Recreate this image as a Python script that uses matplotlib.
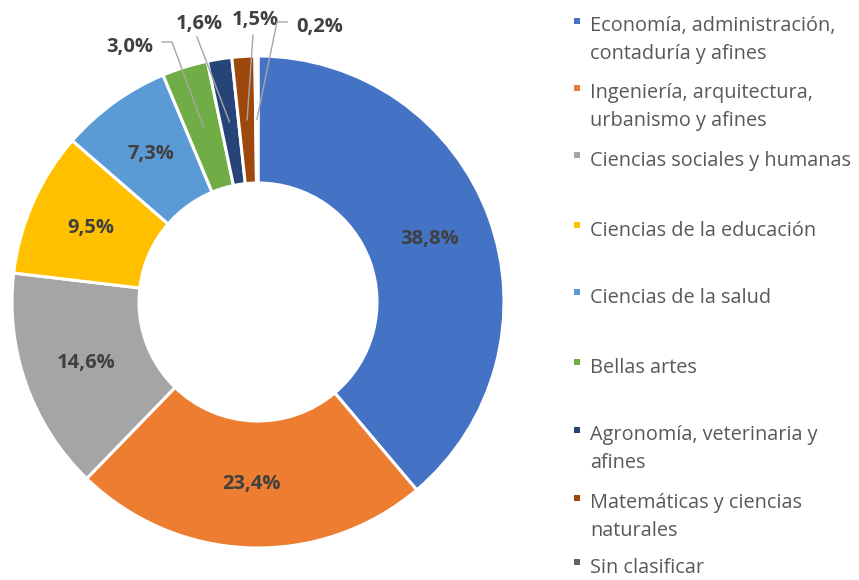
import numpy as np
import matplotlib as mpl
mpl.use('Agg')
import matplotlib.pyplot as plt
from matplotlib.patches import Rectangle

plt.rcParams['font.family'] = ['Open Sans', 'DejaVu Sans']

categories = ['Economía, administración,\ncontaduría y afines',
              'Ingeniería, arquitectura,\nurbanismo y afines',
              'Ciencias sociales y humanas',
              'Ciencias de la educación',
              'Ciencias de la salud',
              'Bellas artes',
              'Agronomía, veterinaria y\nafines',
              'Matemáticas y ciencias\nnaturales',
              'Sin clasificar']
values = [38.8, 23.4, 14.6, 9.5, 7.3, 3.0, 1.6, 1.5, 0.2]
labels = ['38,8%', '23,4%', '14,6%', '9,5%', '7,3%', '3,0%', '1,6%', '1,5%', '0,2%']
colors = ['#4472C4', '#ED7D31', '#A5A5A5', '#FFC000', '#5B9BD5',
          '#70AD47', '#264478', '#9E480E', '#636363']

W, H = 859, 580
fig = plt.figure(figsize=(W / 100, H / 100), dpi=100)
ax = fig.add_axes([0, 0, 1, 1])

cx, cy = 258, H - 302
R, r_in = 246, 119
wedges, _ = ax.pie(values, center=(cx, cy), radius=R, startangle=90, counterclock=False,
                   colors=colors, frame=True,
                   wedgeprops=dict(width=R - r_in, edgecolor='white', linewidth=2.2))
ax.set_xlim(0, W)
ax.set_ylim(0, H)
ax.set_aspect('equal')
ax.axis('off')

rmid = (R + r_in) / 2.
txt_color = '#404040'

# outside label spots (pixel coords, y from top) and elbow for leader lines
outside = {5: ((130, 47), (172, 42)),
           6: ((199, 24), (197, 37)),
           7: ((255, 20), (253, 35)),
           8: ((320, 27), (277, 22))}

for i, w in enumerate(wedges):
    ang = np.deg2rad((w.theta1 + w.theta2) / 2.)
    px = cx + rmid * np.cos(ang)
    py = cy + rmid * np.sin(ang)
    if i in outside:
        (tx, ty), (ex, ey) = outside[i]
        if i == 5:
            pts = [(162, H - ey), (ex, H - ey), (px, py)]
        elif i == 8:
            pts = [(287, H - ey), (ex, H - ey), (px, py)]
        else:
            pts = [(ex, H - ey), (px, py)]
        xs, ys = zip(*pts)
        ax.plot(xs, ys, color='#A6A6A6', lw=1, zorder=5)
        ax.text(tx, H - ty, labels[i], ha='center', va='center', fontsize=14.5,
                fontweight='bold', color=txt_color)
    else:
        ax.text(px, py, labels[i], ha='center', va='center', fontsize=14.5,
                fontweight='bold', color=txt_color)

# legend (y = centre of first text line, pixels from top)
leg_y = [25, 92, 159, 229, 296, 366, 434, 502, 566]
step = 27
for i, cat in enumerate(categories):
    y = H - leg_y[i]
    nlines = cat.count('\n') + 1
    ax.add_patch(Rectangle((574, y + 1), 6, 6, facecolor=colors[i], edgecolor='none'))
    ax.text(590, y - 7 - step * (nlines - 1), cat, ha='left', va='baseline',
            fontsize=14.3, color='#595959', linespacing=1.53)

fig.savefig('out.png', dpi=100)
